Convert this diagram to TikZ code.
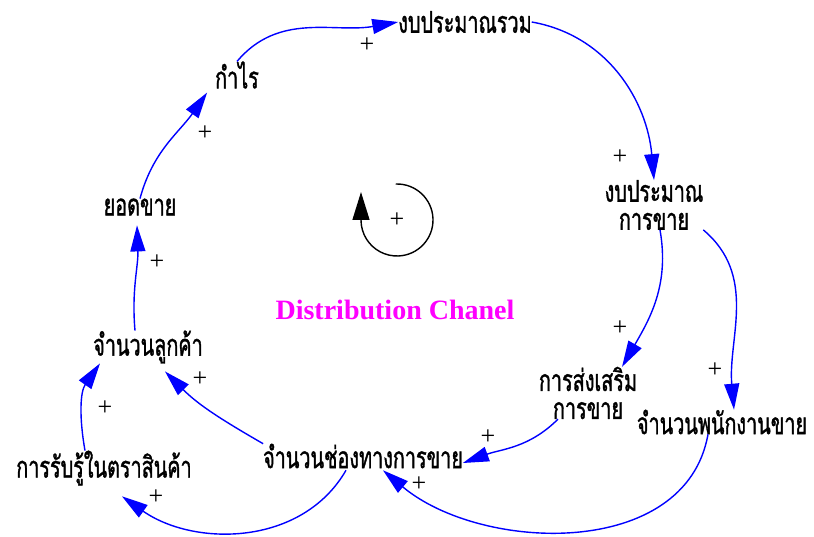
\documentclass[tikz,border=0pt]{standalone}
\usepackage{fontspec}
\setmainfont{Liberation Serif}
\newfontfamily\thai[Script=Thai,FakeStretch=0.66,FakeBold=1.2]{Loma}
\usetikzlibrary{arrows.meta}
\begin{document}
\begin{tikzpicture}[x=1pt,y=1pt,
 var/.style={font=\thai\fontsize{30}{28}\selectfont, inner sep=0pt, outer sep=0pt, align=center},
 link/.style={draw=blue, line width=1.4pt, -{Triangle[length=26pt,width=15pt]}},
 pl/.style={font=\fontsize{26}{26}\selectfont, inner sep=0pt}
]
\useasboundingbox (0,0) rectangle (814,536);
% variables
\node[var] (bt) at (465,514) {งบประมาณรวม};
\node[var] (kr) at (237,461) {กำไร};
\node[var] (yk) at (140,329) {ยอดขาย};
\node[var] (lk) at (148,189) {จำนวนลูกค้า};
\node[var] (rr) at (104,68) {การรับรู้ในตราสินค้า};
\node[var] (ch) at (363,80) {จำนวนช่องทางการขาย};
\node[var] (ps) at (588,143) {การส่งเสริม\\การขาย};
\node[var] (pn) at (722,114) {จำนวนพนักงานขาย};
\node[var] (bs) at (654,331) {งบประมาณ\\การขาย};
\node[font=\bfseries\fontsize{28}{28}\selectfont, text={rgb,255:red,255;green,0;blue,255}] (title) at (395,226) {Distribution Chanel};
% links
\draw[link] (kr.north) to[out=50,in=190] (bt.west);
\draw[link] (bt.east) to[out=-10,in=95] (bs.north);
\draw[link] ([xshift=6pt]bs.south) to[out=-80,in=60] ([xshift=-15pt]ps.north east);
\draw[link] (bs.south east) to[out=-40,in=95] ([xshift=12pt]pn.north);
\draw[link] ([xshift=-30pt]ps.south) to[out=225,in=20] ([yshift=-7pt]ch.east);
\draw[link] ([xshift=-14pt]pn.south) to[out=-100,in=-40] ([xshift=20pt,yshift=-2pt]ch.south);
\draw[link] ([xshift=-17pt,yshift=-2pt]ch.south) to[out=-120,in=-35] ([xshift=18pt,yshift=-11pt]rr.south);
\draw[link] (ch.north west) to[out=150,in=-45] ([xshift=17pt,yshift=-8pt]lk.south);
\draw[link] ([xshift=-19pt]rr.north) to[out=100,in=-125] ([xshift=-48pt]lk.south);
\draw[link] ([xshift=-13pt]lk.north) to[out=95,in=-88] ([xshift=-3pt,yshift=-10pt]yk.south);
\draw[link] (yk.north) to[out=75,in=-125] ([xshift=-8pt,yshift=-4pt]kr.south west);
% polarities
\node[pl] (p1) at (367,491) {+};
\node[pl] (p2) at (620,379) {+};
\node[pl] (p3) at (620,208) {+};
\node[pl] (p4) at (715,166) {+};
\node[pl] (p5) at (488,99) {+};
\node[pl] (p6) at (419,52) {+};
\node[pl] (p7) at (156,39) {+};
\node[pl] (p8) at (200,157) {+};
\node[pl] (p9) at (105,128) {+};
\node[pl] (p10) at (157,274) {+};
\node[pl] (p11) at (205,403) {+};
% loop symbol
\node[pl] (lp) at (397,316) {+};
\draw[line width=1.4pt, -{Triangle[length=28pt,width=17pt]}] ([shift={(92:36)}]lp.center) arc[start angle=92,end angle=-180,radius=36] -- ++(0,28);
\end{tikzpicture}
\end{document}
